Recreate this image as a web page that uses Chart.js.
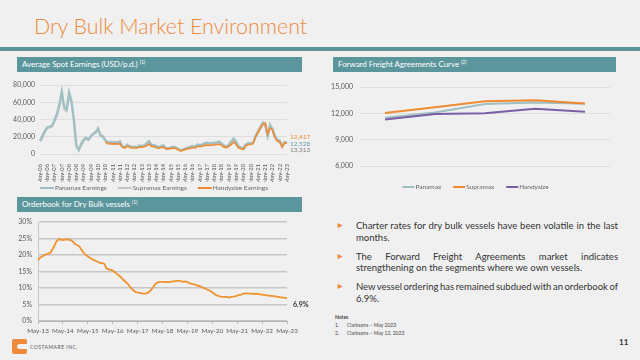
<!DOCTYPE html>
<html><head><meta charset="utf-8">
<script src="https://cdn.jsdelivr.net/npm/chart.js@4.4.0/dist/chart.umd.min.js"></script>
<style>
html,body{margin:0;padding:0;}
body{width:640px;height:360px;background:#f0f0f0;position:relative;overflow:hidden;font-family:Lato,"Open Sans",sans-serif;}
.abs{position:absolute;}
#title{left:34px;top:15px;font-size:21.4px;line-height:22px;color:#ee8a3c;font-weight:300;white-space:nowrap;}
#bar{left:0;top:47px;width:640px;height:4px;background:#5b959b;}
.hdr{position:absolute;height:15px;background:#5b969c;color:#fff;font-size:8px;letter-spacing:-0.05px;line-height:15px;padding-left:5px;box-sizing:border-box;white-space:nowrap;}
.hdr sup{font-size:5px;vertical-align:top;line-height:10px;}
.box{position:absolute;}
.box canvas{display:block;}
.para{position:absolute;left:356px;width:262px;font-size:9.5px;line-height:11.6px;color:#333;}
.para div{white-space:nowrap;}
.para .j{text-align:justify;text-align-last:justify;white-space:normal;word-spacing:-1.2px;}
.bul{position:absolute;left:336px;color:#ee8a3c;font-size:8.5px;line-height:11.6px;}
.note{position:absolute;font-size:5px;color:#444;white-space:nowrap;}
</style>
</head><body>
<div id="title" class="abs">Dry Bulk Market Environment</div>
<div id="bar" class="abs"></div>

<div class="hdr" style="left:17px;top:57px;width:285px;">Average Spot Earnings (USD/p.d.) <sup>(1)</sup></div>
<div class="hdr" style="left:333px;top:57px;width:283px;">Forward Freight Agreements Curve <sup>(2)</sup></div>
<div class="hdr" style="left:17px;top:197px;width:285px;">Orderbook for Dry Bulk vessels <sup>(1)</sup></div>

<div class="box" style="left:0;top:76px;"><canvas id="c1" width="312" height="122"></canvas></div>
<div class="box" style="left:320px;top:76px;"><canvas id="c2" width="300" height="124"></canvas></div>
<div class="box" style="left:0;top:212px;"><canvas id="c3" width="312" height="126"></canvas></div>

<div class="bul" style="top:220px;">&#9658;</div>
<div class="para" style="top:220px;"><div class="j">Charter rates for dry bulk vessels have been volatile in the last</div><div>months.</div></div>
<div class="bul" style="top:250.5px;">&#9658;</div>
<div class="para" style="top:250.5px;"><div class="j">The Forward Freight Agreements market indicates</div><div>strengthening on the segments where we own vessels.</div></div>
<div class="bul" style="top:281px;">&#9658;</div>
<div class="para" style="top:281px;"><div class="j">New vessel ordering has remained subdued with an orderbook of</div><div>6.9%.</div></div>

<div class="note" style="left:335px;top:314px;font-weight:bold;">Notes</div>
<div class="note" style="left:335px;top:322px;">1.</div>
<div class="note" style="left:347px;top:322px;">Clarksons – May 2023</div>
<div class="note" style="left:335px;top:330px;">2.</div>
<div class="note" style="left:347px;top:330px;">Clarksons – May 12, 2023</div>
<div class="abs" style="left:619px;top:337px;font-size:8px;font-weight:bold;color:#333;">11</div>

<svg class="abs" style="left:11px;top:338px;" width="17" height="17" viewBox="0 0 17 17">
  <path d="M3 1 H14 Q16 1 16 3 V6 H9 Q6 6 6 8.5 Q6 11 9 11 H16 V14 Q16 16 14 16 H3 Q1 16 1 14 V3 Q1 1 3 1 Z" fill="#ee8a3c"/>
</svg>
<div class="abs" style="left:30px;top:344px;font-size:5px;letter-spacing:0.5px;color:#555;white-space:nowrap;">COSTAMARE INC.</div>

<script>
// ---------- helpers for category labels ----------
const MONTHS = ['Jan','Feb','Mar','Apr','May','Jun','Jul','Aug','Sep','Oct','Nov','Dec'];
function monthLabels(year, month, count, step) {
  const out = [];
  let y = year, m = month;
  for (let i = 0; i < count; i++) {
    out.push(MONTHS[m] + '-' + String(y % 100).padStart(2, '0'));
    m += step; while (m > 11) { m -= 12; y++; }
  }
  return out;
}

// ---------- Chart 1: Average Spot Earnings (bi-monthly, May-06 .. May-23) ----------
const spotLabels = monthLabels(2006, 4, 103, 2);
const panamaxEarnings = [
  15500,21000,27000,31000,
  32000,33000,40000,47000,58000,73000,
  55000,52000,72000,62000,40000,10000,
  4500,12000,17000,19000,17000,20000,
  24000,25000,30000,21000,20000,15500,
  14000,13500,13000,14000,13000,14000,
  9000,7500,10000,9000,8000,8500,
  8000,9500,9000,10000,12000,15000,
  11000,10000,9000,7500,9000,10000,
  7000,6500,7500,8500,7500,6000,
  4000,5000,6500,7000,8000,9000,
  8000,11000,10000,11000,12500,13000,
  12000,12500,13000,13500,14000,12000,
  10000,8000,11000,15000,18000,14000,
  9000,7000,6000,11000,13000,12500,
  13000,20000,25000,30000,36000,34000,
  21000,34000,28000,20000,17000,15000,
  9000,14000,12528
];
const supramaxEarnings = [
  14500,19000,26000,30000,
  31000,32000,38000,45000,55000,70000,
  52000,50000,68000,60000,38000,9000,
  5000,10000,15000,18000,16000,21000,
  23000,26000,28000,22000,21000,16500,
  13000,14500,14000,13000,14000,15000,
  8000,8500,11000,8500,8500,8000,
  7500,10000,9500,9500,12500,14000,
  10000,10500,9500,8000,9500,9500,
  6500,7000,7000,8000,8000,6500,
  4500,5500,6000,7500,8500,9500,
  8500,10500,10500,10500,12000,13500,
  12500,13000,12500,13000,14500,12500,
  9500,8500,10500,14000,17000,14500,
  8500,7500,6500,10500,12000,12000,
  13500,21000,27000,32000,37000,35000,
  22000,32000,30000,21000,16000,16000,
  8500,13500,13313
];
const handysizeEarnings = [
  null,null,null,null,
  null,null,null,null,null,null,
  null,null,null,null,null,null,
  null,null,null,null,null,null,
  null,null,null,null,null,14000,
  12000,12000,11500,12000,11500,12000,
  8000,7000,9000,8000,7000,7000,
  7000,8000,8000,8500,9500,11500,
  9000,8500,7500,6500,7500,8000,
  6000,6000,6500,7000,6500,5000,
  3500,4000,5500,6000,6500,7500,
  7000,9000,8500,9000,10000,10500,
  10000,10500,10500,11000,11500,10000,
  8000,7500,9000,11000,14000,11000,
  7000,6000,5500,9500,11000,11000,
  12000,20000,25000,30000,34000,36000,
  23000,30000,28000,19000,15000,14000,
  8000,13000,12417
];
const spotYTicks = [0, 20000, 40000, 60000, 80000];

// ---------- Chart 2: FFA curve ----------
const ffaLabels = ['May 23','Jun 23','Jul 23','Q3 23','Q4 23'];
const ffaPanamax   = [11500, 12100, 13080, 13260, 13100];
const ffaSupramax  = [12050, 12700, 13400, 13520, 13150];
const ffaHandysize = [11300, 11930, 12030, 12550, 12200];

// ---------- Chart 3: Orderbook % (monthly, May-13 .. May-23) ----------
const orderLabels = monthLabels(2013, 4, 121, 1);
const orderbookPct = [
  18.5,19.2,19.6,20.0,20.3,20.4,20.8,21.8,
  23.0,24.3,24.8,24.7,24.6,24.7,24.8,24.7,24.5,24.0,23.3,23.0,
  22.6,21.6,20.8,20.1,19.6,19.2,18.8,18.5,18.2,17.9,17.6,17.6,
  17.3,16.0,15.6,15.6,15.3,14.8,14.3,13.8,13.3,12.6,12.0,11.4,
  10.7,9.9,9.3,8.8,8.6,8.6,8.4,8.3,8.4,8.6,9.1,9.8,
  10.8,11.5,11.8,11.9,11.9,11.8,11.9,11.8,11.9,12.0,12.1,12.2,
  12.2,12.1,11.9,12.0,11.8,11.5,11.3,11.2,11.0,10.7,10.6,10.3,
  10.0,9.7,9.4,9.1,8.7,8.2,7.8,7.6,7.4,7.3,7.3,7.3,
  7.1,7.3,7.4,7.5,7.7,7.9,8.0,8.3,8.4,8.4,8.3,8.3,
  8.2,8.3,8.2,8.1,8.0,7.9,7.8,7.7,7.6,7.6,7.5,7.4,
  7.3,7.2,7.1,7.0,6.9
];

// ---------- colours ----------
const C_TEAL = '#9fc0c3';
const C_GREY = '#c5c5c5';
const C_ORANGE = '#ef8a32';
const C_PURPLE = '#7a5ea6';

Chart.defaults.font.family = 'Lato, "Open Sans", sans-serif';
Chart.defaults.color = '#5a5a5a';
Chart.defaults.animation = false;

const fmt = v => v.toLocaleString('en-US');

// simple line legend drawn below the chart area
const lineLegend = {
  id: 'lineLegend',
  afterDraw(chart, args, o) {
    const ctx = chart.ctx;
    ctx.save();
    ctx.font = o.size + 'px Lato, sans-serif';
    const items = chart.data.datasets.map(d => ({
      text: d.label, color: d.borderColor,
      w: o.line + o.textGap + ctx.measureText(d.label).width
    }));
    const total = items.reduce((s, it) => s + it.w, 0) + o.gap * (items.length - 1);
    let x = (chart.chartArea.left + chart.chartArea.right) / 2 + o.dx - total / 2;
    const y = chart.chartArea.bottom + o.dy;
    ctx.textBaseline = 'middle';
    items.forEach(it => {
      ctx.strokeStyle = it.color; ctx.lineWidth = 2;
      ctx.beginPath(); ctx.moveTo(x, y); ctx.lineTo(x + o.line, y); ctx.stroke();
      ctx.fillStyle = o.color;
      ctx.fillText(it.text, x + o.line + o.textGap, y);
      x += it.w + o.gap;
    });
    ctx.restore();
  }
};

// end-value labels for chart 1
const endLabels = {
  id: 'endLabels',
  afterDatasetsDraw(chart, args, opts) {
    const ctx = chart.ctx, y = chart.scales.y;
    ctx.save();
    ctx.font = '6.5px Lato, sans-serif';
    ctx.textBaseline = 'middle';
    opts.items.forEach(it => {
      const data = chart.data.datasets[it.ds].data;
      const v = data[data.length - 1];
      ctx.fillStyle = it.color;
      ctx.fillText(fmt(v), chart.chartArea.right + 3, y.getPixelForValue(v) + it.dy);
    });
    ctx.restore();
  }
};

new Chart(document.getElementById('c1'), {
  type: 'line',
  data: {
    labels: spotLabels,
    datasets: [
      { label: 'Panamax Earnings', data: panamaxEarnings, borderColor: C_TEAL, borderWidth: 2.2, pointRadius: 0, order: 2 },
      { label: 'Supramax Earnings', data: supramaxEarnings, borderColor: C_GREY, borderWidth: 2.2, pointRadius: 0, order: 3 },
      { label: 'Handysize Earnings', data: handysizeEarnings, borderColor: C_ORANGE, borderWidth: 1.6, pointRadius: 0, order: 1 }
    ]
  },
  options: {
    responsive: false,
    layout: { padding: { top: 6, left: 0, right: 25, bottom: 16 } },
    plugins: {
      legend: { display: false },
      tooltip: { enabled: false },
      lineLegend: { size: 6.5, line: 14, textGap: 1, gap: 11, dx: -9.5, dy: 34, color: '#666' },
      endLabels: { items: [
        { ds: 2, color: '#ef8a32', dy: -6 },
        { ds: 0, color: '#5f9ea6', dy: 1 },
        { ds: 1, color: '#808080', dy: 7 }
      ] }
    },
    scales: {
      x: {
        grid: { display: false }, border: { display: false },
        ticks: { autoSkip: false, minRotation: 90, maxRotation: 90, font: { size: 5.8 }, padding: 2,
          callback: (v, i) => (i % 3 === 0 ? spotLabels[i] : null) },
        afterFit: s => { s.height = 28; }
      },
      y: {
        min: 0, max: 80000,
        afterBuildTicks: s => { s.ticks = spotYTicks.map(v => ({ value: v })); },
        grid: { color: '#dedede', drawTicks: false }, border: { display: false },
        ticks: { font: { size: 7 }, padding: 5, callback: v => fmt(v) },
        afterFit: s => { s.width = 40; }
      }
    }
  },
  plugins: [endLabels, lineLegend]
});

// ---------- Chart 2 ----------
new Chart(document.getElementById('c2'), {
  type: 'line',
  data: {
    labels: ffaLabels,
    datasets: [
      { label: 'Panamax', data: ffaPanamax, borderColor: C_TEAL, borderWidth: 2, pointRadius: 0, order: 3 },
      { label: 'Supramax', data: ffaSupramax, borderColor: C_ORANGE, borderWidth: 2, pointRadius: 0, order: 1 },
      { label: 'Handysize', data: ffaHandysize, borderColor: C_PURPLE, borderWidth: 2, pointRadius: 0, order: 2 }
    ]
  },
  options: {
    responsive: false,
    layout: { padding: { top: 9, left: 0, right: 10, bottom: 21 } },
    plugins: {
      legend: { display: false },
      tooltip: { enabled: false },
      lineLegend: { size: 6.5, line: 12, textGap: 1, gap: 12, dx: -9.5, dy: 21, color: '#666' }
    },
    scales: {
      x: { offset: true, grid: { display: false }, border: { display: false },
        ticks: { font: { size: 6.5 }, padding: 4 }, afterFit: s => { s.height = 13; } },
      y: {
        min: 6000, max: 15000,
        ticks: { stepSize: 3000, font: { size: 7 }, padding: 7, callback: v => fmt(v) },
        grid: { color: '#dedede', drawTicks: false }, border: { display: false },
        afterFit: s => { s.width = 40; }
      }
    }
  },
  plugins: [lineLegend]
});

// ---------- Chart 3 ----------
const lastLabel = {
  id: 'lastLabel',
  afterDatasetsDraw(chart) {
    const ctx = chart.ctx, ds = chart.data.datasets[0].data;
    const v = ds[ds.length - 1];
    ctx.save();
    ctx.font = 'bold 7px Lato, sans-serif';
    ctx.fillStyle = '#333';
    ctx.textBaseline = 'middle';
    ctx.fillText(v.toFixed(1) + '%', chart.chartArea.right + 6, chart.scales.y.getPixelForValue(v) + 6);
    ctx.restore();
  }
};

new Chart(document.getElementById('c3'), {
  type: 'line',
  data: {
    labels: orderLabels,
    datasets: [
      { label: 'Orderbook', data: orderbookPct, borderColor: '#f0922e', borderWidth: 1.8, pointRadius: 0 }
    ]
  },
  options: {
    responsive: false,
    layout: { padding: { top: 9, left: 0, right: 25, bottom: 0 } },
    plugins: { legend: { display: false }, tooltip: { enabled: false } },
    scales: {
      x: {
        grid: { drawOnChartArea: false, drawTicks: true, tickLength: 3, color: '#b5b5b5' },
        border: { display: true, color: '#b5b5b5' },
        ticks: { autoSkip: false, maxRotation: 0, font: { size: 6.3 }, padding: 3,
          callback: (v, i) => (i % 12 === 0 ? orderLabels[i] : null) },
        afterFit: s => { s.height = 17; }
      },
      y: {
        min: 0, max: 30,
        ticks: { stepSize: 5, font: { size: 7 }, padding: 6, callback: v => v + '%' },
        grid: { color: '#c6c6c6', lineWidth: 1.5, drawTicks: false },
        border: { display: true, color: '#c8c8c8' },
        afterFit: s => { s.width = 38; }
      }
    }
  },
  plugins: [lastLabel]
});
</script>
</body></html>
